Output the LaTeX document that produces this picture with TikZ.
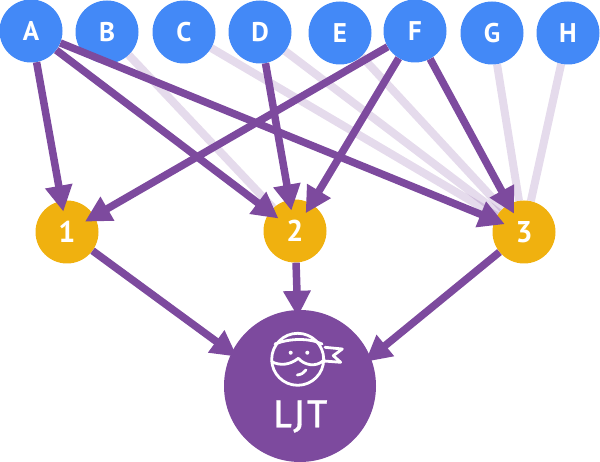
\documentclass[tikz,border=0pt]{standalone}
\usepackage{fontspec}
\setmainfont{PT Sans}
\newfontfamily\ljtfont[LetterSpace=5,FakeBold=0.7]{Fira Sans}
\usetikzlibrary{arrows.meta}
\definecolor{inBlue}{HTML}{4389F7}
\definecolor{midGold}{HTML}{F0B10F}
\definecolor{ljtPurple}{HTML}{7D4A9E}
\tikzstyle{input}=[circle, inner sep=0pt, minimum size=63pt, fill=inBlue, text=white, font=\fontsize{27}{27}\selectfont\bfseries]
\tikzstyle{mid}=[circle, inner sep=0pt, minimum size=63pt, fill=midGold, text=white, font=\fontsize{30}{30}\selectfont\bfseries]
\tikzstyle{ljt}=[circle, inner sep=0pt, minimum size=152pt, fill=ljtPurple]
\tikzstyle{edge}=[draw=ljtPurple, line width=7.5pt, -{Triangle[length=26pt,width=26pt]}, shorten >=-11pt]
\tikzstyle{toLjt}=[edge, shorten >=-7pt]
\tikzstyle{faded}=[draw=ljtPurple, opacity=0.2, line width=8pt]
\tikzstyle{ninja}=[draw=white, line width=2.8pt, line cap=round, line join=round]
\begin{document}
\begin{tikzpicture}[x=1pt, y=-1pt]
	\useasboundingbox (0,0) rectangle (600,462);
	%%
	\draw (31,31) node[input] (a) {A};
	\draw (107,32) node[input] (b) {B};
	\draw (184,32) node[input] (c) {C};
	\draw (260,32) node[input] (d) {D};
	\draw (340,33) node[input] (e) {E};
	\draw (415,31) node[input] (f) {F};
	\draw (492,33) node[input] (g) {G};
	\draw (568,33) node[input] (h) {H};
	%%
	\draw (67,232) node[mid] (m1) {1};
	\draw (295,231) node[mid] (m2) {2};
	\draw (524,232) node[mid] (m3) {3};
	%%
	\draw (300,386) node[ljt] (l) {};
	\draw (300,416.5) node[text=white, font=\fontsize{39}{39}\ljtfont] (ltext) {LJT};
	%%%%%%
	\draw[faded] (b) -- (m2);
	\draw[faded] (c) -- (m3);
	\draw[faded] (d) -- (m3);
	\draw[faded] (e) -- (m3);
	\draw[faded] (g) -- (m3);
	\draw[faded] (h) -- (m3);
	%%
	\draw[edge] (a) -- (m1);
	\draw[edge] (a) -- (m2);
	\draw[edge] (a) -- (m3);
	\draw[edge] (d) -- (m2);
	\draw[edge] (f) -- (m1);
	\draw[edge] (f) -- (m2);
	\draw[edge] (f) -- (m3);
	\draw[toLjt] (m1) -- (l.154);
	\draw[toLjt] (m2) -- (l);
	\draw[toLjt] (m3) -- (l.22);
	%%%%%%
	\draw[ninja] (297.7,359.3) circle (26);
	\draw[ninja] (275,344) .. controls (290,338) and (310,338) .. (322,344);
	\draw[ninja] (271.7,361.7) .. controls (280,366) and (290,365) .. (298.3,358.3) .. controls (304,365) and (316,368) .. (324,360);
	\draw[ninja] (325,347.3) -- (342.3,349) -- (333.3,355.7) -- (340.7,362.3) -- (324,361);
	\draw[ninja] (297.3,375) .. controls (301,374.5) and (304,373) .. (306,370);
	\fill[white] (290.7,352.7) circle (2) (307.3,352.7) circle (2);
\end{tikzpicture}
\end{document}
